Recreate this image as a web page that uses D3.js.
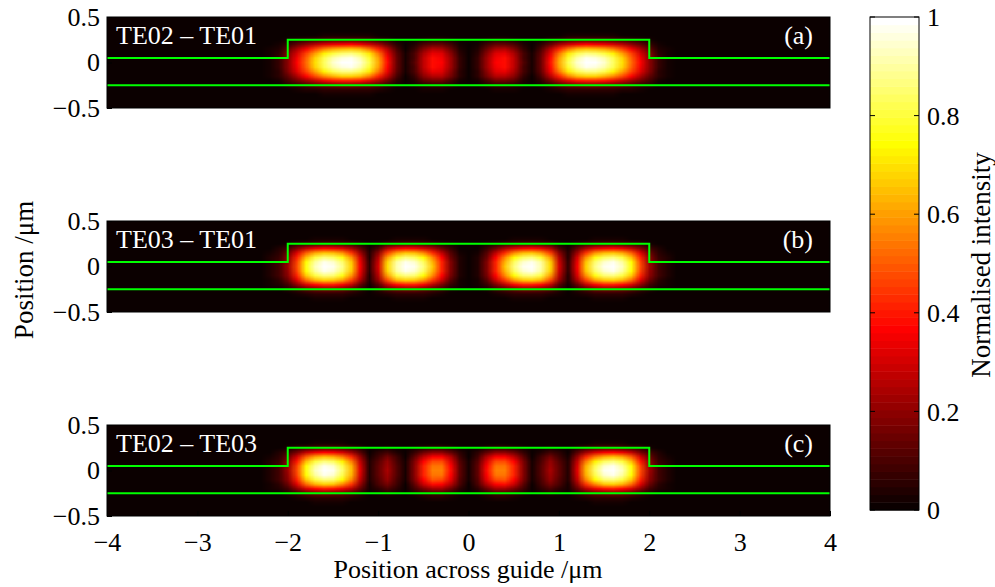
<html lang="en">
<head>
<meta charset="UTF-8">
<script src="https://d3js.org/d3.v7.min.js"></script>
<title>Mode beat intensity</title>
<style>
  body{margin:0;background:#fff;}
  svg text{font-family:"Liberation Serif","Times New Roman",serif;}
</style>
<script>
var panelNames = ["TE02 \u2013 TE01", "TE03 \u2013 TE01", "TE02 \u2013 TE03"];
var panelTags = ["(a)", "(b)", "(c)"];
var xTicks = [-4, -3, -2, -1, 0, 1, 2, 3, 4];
var yTicks = [-0.5, 0, 0.5];
var cbTicks = [0, 0.2, 0.4, 0.6, 0.8, 1];

// waveguide outline, um
var ribX = [-4, -2, -2, 2, 2, 4];
var ribY = [0.05, 0.05, 0.25, 0.25, 0.05, 0.05];
var baseY = -0.25;

// sample positions of the intensity
var sampleX = [-2.5,-2.4,-2.3,-2.2,-2.1,-2.0,-1.9,-1.8,-1.7,-1.6,-1.5,-1.4,-1.3,-1.2,-1.1,-1.0,-0.9,-0.8,-0.7,-0.6,-0.5,-0.4,-0.3,-0.2,-0.1,
               0,0.1,0.2,0.3,0.4,0.5,0.6,0.7,0.8,0.9,1.0,1.1,1.2,1.3,1.4,1.5,1.6,1.7,1.8,1.9,2.0,2.1,2.2,2.3,2.4,2.5];
var sampleY = [-0.5,-0.45,-0.4,-0.35,-0.3,-0.25,-0.2,-0.15,-0.1,-0.05,0,0.05,0.1,0.15,0.2,0.25,0.3,0.35,0.4,0.45,0.5];

// vertical profile through the rib (same for all panels)
var profileY = [0,0,0.005,0.02,0.06,0.16,0.4,0.68,0.87,0.97,1,0.97,0.86,0.66,0.36,0.1,0.02,0.005,0,0,0];

// horizontal profiles along y = 0
var profileA = [0,0.005,0.015,0.03,0.07,0.2,0.36,0.53,0.7,0.84,0.94,0.99,1.0,0.95,0.82,0.62,0.38,0.15,0.02,0.11,0.28,0.39,0.37,0.23,0.07,
                0,0.07,0.23,0.37,0.39,0.28,0.11,0.02,0.15,0.38,0.62,0.82,0.95,1.0,0.99,0.94,0.84,0.7,0.53,0.36,0.2,0.07,0.03,0.015,0.005,0];
var profileB = [0,0.005,0.015,0.04,0.09,0.22,0.48,0.76,0.93,1.0,0.98,0.88,0.68,0.35,0.05,0.3,0.7,0.92,1.0,0.98,0.86,0.66,0.42,0.18,0.04,
                0,0.04,0.18,0.42,0.66,0.86,0.98,1.0,0.92,0.7,0.3,0.05,0.35,0.68,0.88,0.98,1.0,0.93,0.76,0.48,0.22,0.09,0.04,0.015,0.005,0];
var profileC = [0,0.005,0.015,0.04,0.09,0.22,0.47,0.76,0.93,1.0,0.97,0.85,0.65,0.32,0.04,0.14,0.24,0.12,0.02,0.2,0.42,0.56,0.55,0.38,0.14,
                0.02,0.14,0.38,0.55,0.56,0.42,0.2,0.02,0.12,0.24,0.14,0.04,0.32,0.65,0.85,0.97,1.0,0.93,0.76,0.47,0.22,0.09,0.04,0.015,0.005,0];
var profiles = [profileA, profileB, profileC];

// matlab hot(64)
function hot(i){
  var m = 64, n = 24;
  var r = i < n ? (i+1)/n : 1;
  var g = i < n ? 0 : (i < 2*n ? (i-n+1)/n : 1);
  var b = i < 2*n ? 0 : (i-2*n+1)/(m-2*n);
  return [Math.round(r*255), Math.round(g*255), Math.round(b*255)];
}
function hotIndex(v){ return Math.max(0, Math.min(63, Math.floor(v*64))); }
function rgb(c){ return "rgb("+c[0]+","+c[1]+","+c[2]+")"; }

function main(){
  var svg = d3.select("svg");
  var fs = 26;
  var x = d3.scaleLinear().domain([-4, 4]).range([107, 830]);
  var tops = [17, 221, 425], ph = 91;

  tops.forEach(function(top, p){
    var y = d3.scaleLinear().domain([-0.5, 0.5]).range([top+ph, top]);
    var g = svg.append("g");

    g.append("clipPath").attr("id", "clip"+p)
      .append("rect").attr("x", x(-4)).attr("y", top).attr("width", x(4)-x(-4)).attr("height", ph);

    g.append("rect").attr("x", x(-4)).attr("y", top).attr("width", x(4)-x(-4)).attr("height", ph)
      .attr("fill", rgb(hot(0)));

    // small image of the sampled field, smoothed by the browser when scaled
    var cv = document.createElement("canvas");
    cv.width = sampleX.length; cv.height = sampleY.length;
    var ctx = cv.getContext("2d");
    var img = ctx.createImageData(cv.width, cv.height);
    for (var j = 0; j < sampleY.length; j++){
      for (var i = 0; i < sampleX.length; i++){
        var v = profiles[p][i] * profileY[sampleY.length-1-j];
        var c = hot(hotIndex(v));
        var k = 4*(j*cv.width + i);
        img.data[k] = c[0]; img.data[k+1] = c[1]; img.data[k+2] = c[2]; img.data[k+3] = 255;
      }
    }
    ctx.putImageData(img, 0, 0);
    var dx = 0.05, dy = 0.025;
    g.append("image")
      .attr("clip-path", "url(#clip"+p+")")
      .attr("href", cv.toDataURL())
      .attr("x", x(sampleX[0]-dx)).attr("y", y(sampleY[sampleY.length-1]+dy))
      .attr("width", x(sampleX[sampleX.length-1]+dx) - x(sampleX[0]-dx))
      .attr("height", y(sampleY[0]-dy) - y(sampleY[sampleY.length-1]+dy))
      .attr("preserveAspectRatio", "none");

    // waveguide outline
    var line = d3.line().x(function(d){ return x(d[0]); }).y(function(d){ return y(d[1]); });
    g.append("path").attr("d", line(ribX.map(function(d, i){ return [d, ribY[i]]; })))
      .attr("fill", "none").attr("stroke", "#00ff00").attr("stroke-width", 2).attr("clip-path", "url(#clip"+p+")");
    g.append("path").attr("d", line([[-4, baseY], [4, baseY]]))
      .attr("fill", "none").attr("stroke", "#00ff00").attr("stroke-width", 2).attr("clip-path", "url(#clip"+p+")");

    g.append("rect").attr("x", x(-4)).attr("y", top).attr("width", x(4)-x(-4)).attr("height", ph)
      .attr("fill", "none").attr("stroke", "#000").attr("stroke-width", 1);

    var ya = g.append("g").attr("transform", "translate("+x(-4)+",0)")
      .call(d3.axisLeft(y).tickValues(yTicks).tickSizeInner(-5).tickSizeOuter(0).tickPadding(7)
        .tickFormat(function(d){ return d === 0 ? "0" : d3.format(".1f")(d); }));
    ya.select(".domain").remove();
    ya.attr("font-size", fs).attr("font-family", null);
    ya.selectAll("text").attr("fill", "#000");

    if (p === 2){
      var xa = g.append("g").attr("transform", "translate(0,"+(top+ph)+")")
        .call(d3.axisBottom(x).tickValues(xTicks).tickSizeInner(-5).tickSizeOuter(0).tickPadding(17)
          .tickFormat(d3.format("d")));
      xa.select(".domain").remove();
      xa.attr("font-size", fs).attr("font-family", null);
      xa.selectAll("text").attr("fill", "#000");
    }

    g.append("text").attr("x", 116).attr("y", top+27).attr("fill", "#fff").attr("font-size", fs)
      .text(panelNames[p]);
    g.append("text").attr("x", 813).attr("y", top+27).attr("fill", "#fff").attr("font-size", fs)
      .attr("text-anchor", "end").text(panelTags[p]);
  });

  svg.append("text").attr("x", 468).attr("y", 578).attr("text-anchor", "middle").attr("font-size", fs)
    .text("Position across guide /\u03bcm");
  svg.append("text").attr("transform", "translate(33,270) rotate(-90)").attr("text-anchor", "middle")
    .attr("font-size", 27).text("Position /\u03bcm");

  // colour bar
  var cy = d3.scaleLinear().domain([0, 1]).range([510, 17]);
  var cx0 = 870, cx1 = 919;
  var cb = svg.append("g");
  cb.selectAll("rect.lev").data(d3.range(64)).enter().append("rect").attr("class", "lev")
    .attr("x", cx0).attr("width", cx1-cx0)
    .attr("y", function(d){ return cy((d+1)/64); })
    .attr("height", function(d){ return cy(d/64) - cy((d+1)/64) + 0.5; })
    .attr("fill", function(d){ return rgb(hot(d)); });
  cb.append("rect").attr("x", cx0).attr("y", cy(1)).attr("width", cx1-cx0).attr("height", cy(0)-cy(1))
    .attr("fill", "none").attr("stroke", "#000").attr("stroke-width", 1);
  cb.selectAll("line.tl").data(cbTicks).enter().append("line").attr("class", "tl")
    .attr("x1", cx0).attr("x2", cx0+5).attr("y1", cy).attr("y2", cy).attr("stroke", "#000");
  cb.selectAll("line.tr").data(cbTicks).enter().append("line").attr("class", "tr")
    .attr("x1", cx1).attr("x2", cx1-5).attr("y1", cy).attr("y2", cy).attr("stroke", "#000");
  cb.selectAll("text.tk").data(cbTicks).enter().append("text").attr("class", "tk")
    .attr("x", cx1+8).attr("y", cy).attr("dy", "0.35em").attr("font-size", fs)
    .text(function(d){ return d === 0 || d === 1 ? d3.format("d")(d) : d3.format(".1f")(d); });
  svg.append("text").attr("transform", "translate(990,265) rotate(-90)").attr("text-anchor", "middle")
    .attr("font-size", 27).text("Normalised intensity");
}
</script>
</head>
<body onload="main();">
<svg width="995" height="587"></svg>
</body>
</html>
